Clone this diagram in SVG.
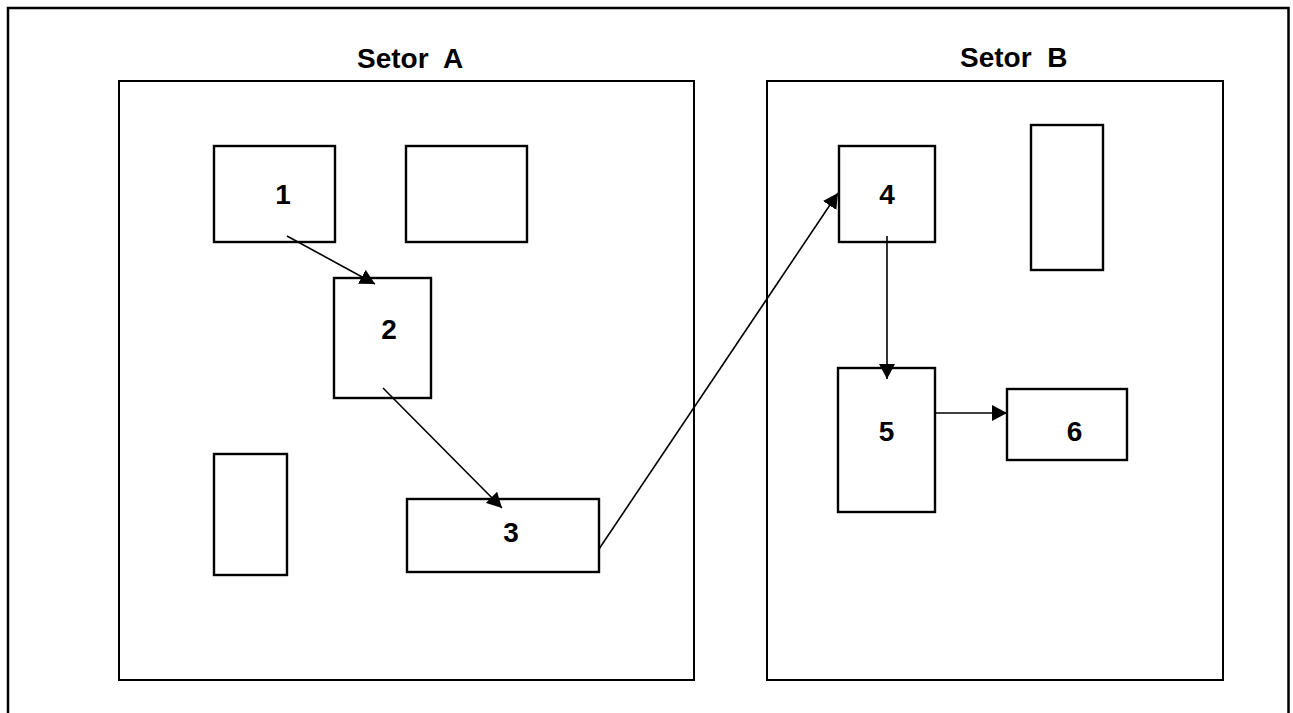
<svg xmlns="http://www.w3.org/2000/svg" width="1293" height="713" viewBox="0 0 1293 713">
  <style>
    .frame { fill: none; stroke: #000; stroke-width: 2.5; }
    .sector { fill: none; stroke: #000; stroke-width: 2; }
    .box { fill: #fff; stroke: #000; stroke-width: 2.4; }
    .title { font-family: "Liberation Sans", Arial, sans-serif; font-weight: bold; font-size: 28px; fill: #000; }
    .num { font-family: "Liberation Sans", Arial, sans-serif; font-weight: bold; font-size: 28px; fill: #000; text-anchor: middle; }
    .link { fill: none; stroke: #000; stroke-width: 1.6; marker-end: url(#arrow); }
  </style>
  <defs>
    <marker id="arrow" markerUnits="userSpaceOnUse" markerWidth="16" markerHeight="16" refX="15" refY="8" orient="auto">
      <path d="M0,0 L15,8 L0,16 z" fill="#000"/>
    </marker>
  </defs>

  <rect width="1293" height="713" fill="#fff"/>

  <!-- page frame, open at the bottom -->
  <path class="frame" d="M8,713 V8 H1288.5 V713"/>

  <!-- sectors -->
  <g id="setor-a">
    <rect class="sector" x="119" y="81" width="575" height="599"/>
    <text class="title" x="357" y="68" xml:space="preserve">Setor  A</text>
  </g>
  <g id="setor-b">
    <rect class="sector" x="767" y="81" width="456" height="599"/>
    <text class="title" x="960" y="67" xml:space="preserve">Setor  B</text>
  </g>

  <!-- stations -->
  <g id="n1">
    <rect class="box" x="214" y="146" width="121" height="96"/>
    <text class="num" x="283" y="204">1</text>
  </g>
  <g id="n-empty-a1">
    <rect class="box" x="406" y="146" width="121" height="96"/>
  </g>
  <g id="n2">
    <rect class="box" x="334" y="278" width="97" height="120"/>
    <text class="num" x="389" y="339">2</text>
  </g>
  <g id="n-empty-a2">
    <rect class="box" x="214" y="454" width="73" height="121"/>
  </g>
  <g id="n3">
    <rect class="box" x="407" y="499" width="192" height="73"/>
    <text class="num" x="511" y="542">3</text>
  </g>
  <g id="n4">
    <rect class="box" x="839" y="146" width="96" height="96"/>
    <text class="num" x="887" y="204">4</text>
  </g>
  <g id="n-empty-b1">
    <rect class="box" x="1031" y="125" width="72" height="145"/>
  </g>
  <g id="n5">
    <rect class="box" x="838" y="368" width="97" height="144"/>
    <text class="num" x="886.5" y="441">5</text>
  </g>
  <g id="n6">
    <rect class="box" x="1007" y="389" width="120" height="71"/>
    <text class="num" x="1074.5" y="441">6</text>
  </g>

  <!-- flow -->
  <g id="connectors">
    <line class="link" x1="287" y1="236" x2="375" y2="284"/>
    <line class="link" x1="383" y1="388" x2="502" y2="508"/>
    <line class="link" x1="599" y1="549" x2="838" y2="193"/>
    <line class="link" x1="887" y1="236" x2="887" y2="379"/>
    <line class="link" x1="935" y1="413" x2="1007" y2="413"/>
  </g>
</svg>
